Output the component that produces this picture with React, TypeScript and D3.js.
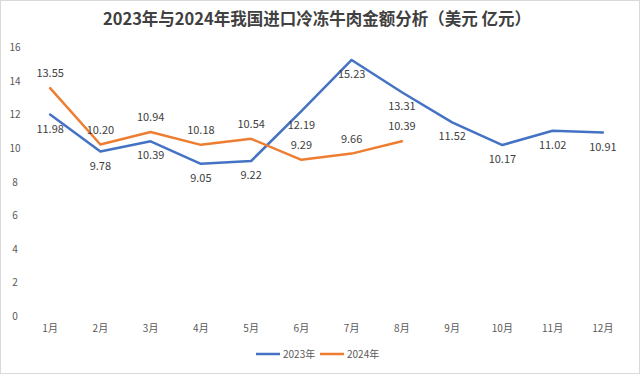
import * as d3 from 'd3';
import React from 'react';

// chart data
const months = ['1月', '2月', '3月', '4月', '5月', '6月', '7月', '8月', '9月', '10月', '11月', '12月'];
const values2023 = [11.98, 9.78, 10.39, 9.05, 9.22, 12.19, 15.23, 13.31, 11.52, 10.17, 11.02, 10.91];
const values2024 = [13.55, 10.20, 10.94, 10.18, 10.54, 9.29, 9.66, 10.39];
const yTicks = [0, 2, 4, 6, 8, 10, 12, 14, 16];

const W = 640;
const H = 374;
const FONT = '"Noto Sans CJK SC", "Noto Sans", sans-serif';

const App = () => {
	const margin = { top: 47, right: 12, bottom: 58, left: 25 };

	const x = d3.scaleBand()
		.domain(months)
		.range([margin.left, W - margin.right]);

	const y = d3.scaleLinear()
		.domain([0, 16])
		.range([H - margin.bottom, margin.top]);

	const cx = (m: string) => (x(m) || 0) + x.bandwidth() / 2;

	const series = [
		{ key: '2023年', color: '#4472C4', values: values2023, labelDy: 18 },
		{ key: '2024年', color: '#ED7D31', values: values2024, labelDy: -11 },
	];

	const line = d3.line<number>()
		.x((d, i) => cx(months[i]))
		.y(d => y(d));

	return (
		<svg width={W} height={H} style={{ position: 'absolute', left: 0, top: 0, background: '#fff' }} fontFamily={FONT}>
			<rect x={0.5} y={0.5} width={W - 1} height={H - 1} fill="#fff" stroke="#d9d9d9" />
			<text x={317} y={25} textAnchor="middle" fontSize={16.5} fontWeight="bold" fill="#404040">
				2023年与2024年我国进口冷冻牛肉金额分析（美元 亿元）
			</text>

			{/* y axis labels */}
			{yTicks.map(t => (
				<text key={t} x={15} y={y(t) + 4} textAnchor="middle" fontSize={10} fill="#595959">{t}</text>
			))}

			{/* x axis labels */}
			{months.map(m => (
				<text key={m} x={cx(m)} y={332} textAnchor="middle" fontSize={10} fill="#595959">{m}</text>
			))}

			{series.map(s => (
				<path key={s.key} d={line(s.values) || ''} fill="none" stroke={s.color} strokeWidth={2.5} strokeLinejoin="round" strokeLinecap="round" />
			))}

			{series.map(s => s.values.map((v, i) => (
				<text key={s.key + i} x={cx(months[i])} y={y(v) + s.labelDy} textAnchor="middle" fontSize={11} fill="#404040">
					{v.toFixed(2)}
				</text>
			)))}

			{/* legend */}
			{series.map((s, i) => (
				<g key={s.key} transform={`translate(${256 + i * 64}, 354)`}>
					<line x1={0} x2={24} y1={0} y2={0} stroke={s.color} strokeWidth={2.5} />
					<text x={27} y={4} fontSize={10} fill="#595959">{s.key}</text>
				</g>
			))}
		</svg>
	);
};

export default App;
